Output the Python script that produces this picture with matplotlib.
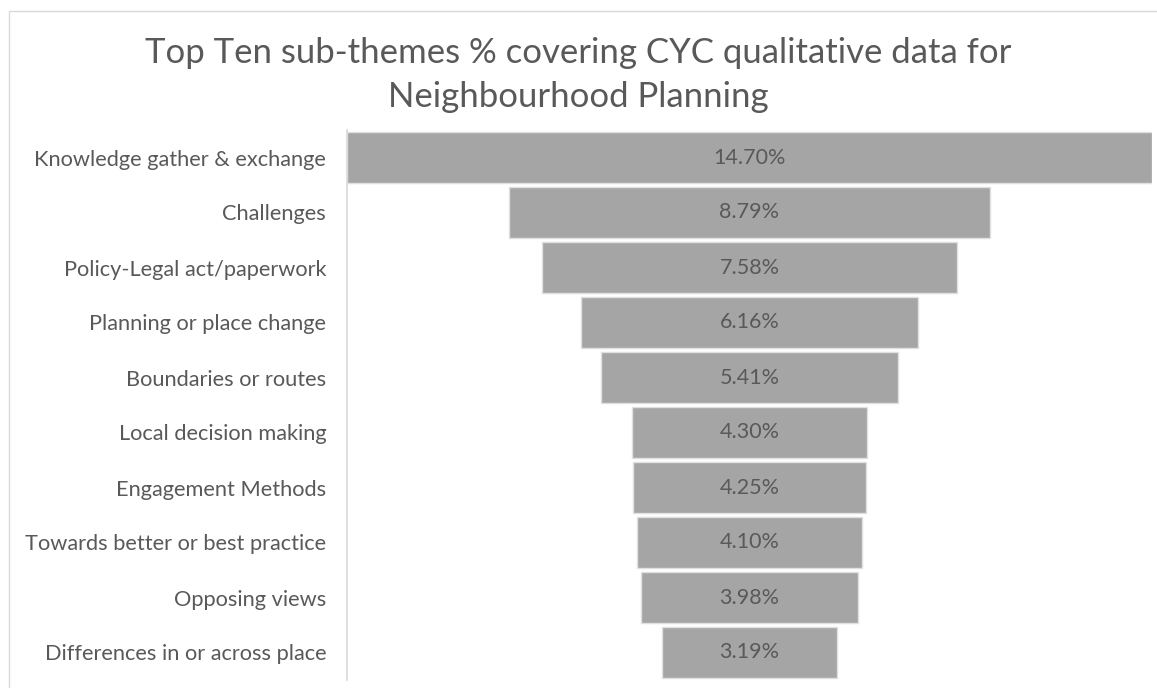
import matplotlib
matplotlib.use('Agg')
import matplotlib.pyplot as plt
import numpy as np
from matplotlib.patches import Rectangle

temas = ['Knowledge gather & exchange', 'Challenges', 'Policy-Legal act/paperwork',
         'Planning or place change', 'Boundaries or routes', 'Local decision making',
         'Engagement Methods', 'Towards better or best practice', 'Opposing views',
         'Differences in or across place']
porcentajes = [14.70, 8.79, 7.58, 6.16, 5.41, 4.30, 4.25, 4.10, 3.98, 3.19]

plt.rcParams['font.family'] = ['Lato', 'DejaVu Sans']
gris_texto = '#595959'

fig = plt.figure(figsize=(11.57, 6.88), dpi=100)
# borde claro del area del grafico
fig.patches.append(Rectangle((9 / 1157, -0.05), 1.2, 1 - 11 / 688 + 0.05,
                             transform=fig.transFigure, fill=False,
                             edgecolor='#D9D9D9', linewidth=1))

ax = fig.add_axes([347 / 1157, 8 / 688, 805 / 1157, 550 / 688])

maximo = max(porcentajes)
y = np.arange(len(temas))
izq = [(maximo - v) / 2 for v in porcentajes]
barras = ax.barh(y, porcentajes, left=izq, height=0.94, color='#A5A5A5',
                 edgecolor='#E0E0E0', linewidth=1)

#etiquetas con el valor de cada barra
for rect, v in zip(barras, porcentajes):
    ax.text(rect.get_x() + rect.get_width() / 2, rect.get_y() + rect.get_height() / 2,
            '{:.2f}%'.format(v), ha='center', va='center', fontsize=15.5, color=gris_texto)

ax.set_xlim(0, maximo)
ax.set_ylim(len(temas) - 0.5, -0.5)
ax.set_yticks(y)
ax.set_yticklabels(temas, fontsize=15.7, color=gris_texto)
ax.tick_params(axis='y', length=0, pad=15)
ax.set_xticks([])
for lado in ['top', 'right', 'bottom']:
    ax.spines[lado].set_visible(False)
ax.spines['left'].set_color('#D9D9D9')
ax.spines['left'].set_linewidth(1.2)

fig.text(578 / 1157, 1 - 75 / 688,
         'Top Ten sub-themes % covering CYC qualitative data for\nNeighbourhood Planning',
         ha='center', va='center', fontsize=25, color=gris_texto, linespacing=1.45)

plt.savefig('out.png', dpi=100)
